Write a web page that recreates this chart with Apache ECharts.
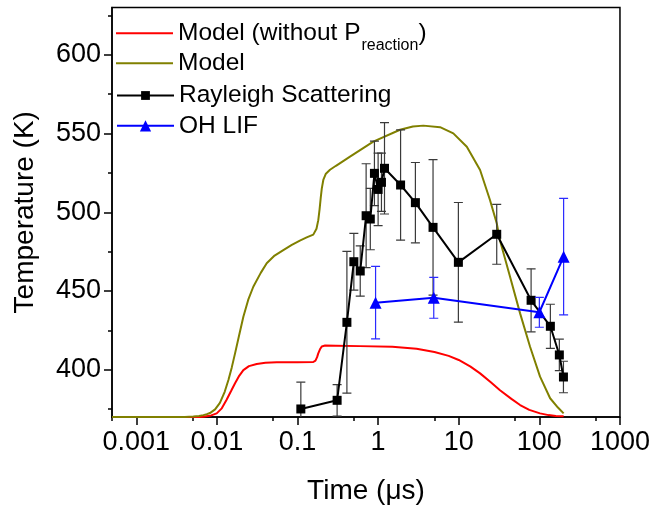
<!DOCTYPE html>
<html>
<head>
<meta charset="utf-8">
<script src="https://cdn.jsdelivr.net/npm/echarts@6/dist/echarts.min.js"></script>
<style>html,body{margin:0;padding:0;background:#fff}#c{width:653px;height:511px}</style>
</head>
<body>
<div id="c"></div>
<script>
// ---- Data ----
const xTickLabels = [0.001, 0.01, 0.1, 1, 10, 100, 1000];
const xMinorTicks = [0.0005, 0.005, 0.05, 0.5, 5, 50, 500];
const yTickLabels = [400, 450, 500, 550, 600];
const yMinorTicks = [375, 425, 475, 525, 575, 625];

// Model (without P_reaction) - red
const modelNoPTime = [0.0005, 0.006, 0.0068, 0.0085, 0.00995, 0.0115, 0.0132, 0.015, 0.0168, 0.019, 0.0213, 0.025, 0.0312, 0.04, 0.0552, 0.1, 0.157, 0.167, 0.175, 0.181, 0.19, 0.2, 0.22, 0.3, 0.596, 1.5, 3, 5, 7.5, 10, 14, 18.4, 25, 32.5, 45, 57.7, 75, 102, 130, 160, 200];
const modelNoPTemp = [370, 370, 370.2, 371, 372.3, 375.5, 381, 386.5, 391.4, 396.3, 399.8, 402.3, 403.7, 404.4, 404.7, 404.8, 404.9, 405.8, 408, 410.4, 413, 414.8, 415.4, 415.3, 415, 414.6, 413.3, 411.3, 408.8, 406.2, 402, 397.7, 392, 387, 381.5, 377.6, 374.5, 372.3, 371.2, 370.7, 370.4];

// Model - olive
const modelTime = [0.0005, 0.004, 0.0051, 0.006, 0.0068, 0.0075, 0.0082, 0.0095, 0.0109, 0.0125, 0.0139, 0.0153, 0.0168, 0.019, 0.0213, 0.0245, 0.0283, 0.035, 0.0415, 0.052, 0.0667, 0.085, 0.107, 0.13, 0.157, 0.165, 0.172, 0.181, 0.188, 0.194, 0.2, 0.209, 0.225, 0.253, 0.3, 0.448, 0.871, 1.87, 2.7, 3.64, 5.87, 8.57, 12.6, 18.4, 24.4, 29.6, 32.5, 43.3, 57.7, 76.7, 102, 136, 170, 200];
const modelTemp = [370, 370, 370.3, 370.7, 371.2, 371.8, 372.5, 374.8, 379, 386, 393.5, 401.5, 410.4, 422.5, 433.7, 444.5, 452.7, 461.5, 467.6, 472.5, 476, 479.3, 482, 484, 485.8, 487, 489.5, 495, 502, 509, 515, 520.5, 524.5, 527, 529.5, 535.3, 544.8, 552.4, 554.4, 555, 554, 550.1, 541.6, 526.8, 507.8, 493, 482, 459.1, 435.8, 414.6, 395.6, 381.9, 376, 372.3];

// Rayleigh Scattering - black squares
const rsTime = [0.11, 0.31, 0.41, 0.5, 0.6, 0.71, 0.8, 0.9, 1.0, 1.1, 1.2, 1.9, 2.9, 4.8, 9.9, 29.6, 79, 137, 177, 199];
const rsTemp = [375.1, 380.6, 430.1, 468.6, 462.7, 497.8, 495.7, 524.7, 514.5, 519, 527.9, 517.3, 506.1, 490.4, 468.2, 486, 444.1, 427.6, 409.4, 395.4];
const rsErr  = [17, 10, 45, 18, 16, 33, 19.5, 20.5, 23, 18.5, 29, 35, 25.5, 43, 38, 19, 20, 14, 10, 10];

// OH LIF - blue triangles
const ohTime = [0.93, 4.9, 100, 200];
const ohTemp = [442.6, 445.7, 436.5, 471.8];
const ohErr  = [23, 13, 9.5, 37];

// ---- Chart ----
const FONT = 'Liberation Sans, Arial, sans-serif';
const zip = (a, b) => a.map((v, i) => [v, b[i]]);
const errData = (t, v, e) => t.map((x, i) => [x, v[i] - e[i], v[i] + e[i]]);

function errRender(color, capHalf) {
  return function (params, api) {
    const x = api.value(0);
    const lo = api.coord([x, api.value(1)]);
    const hi = api.coord([x, api.value(2)]);
    const st = { stroke: color, lineWidth: 1.2 };
    return {
      type: 'group',
      children: [
        { type: 'line', shape: { x1: lo[0], y1: lo[1], x2: hi[0], y2: hi[1] }, style: st },
        { type: 'line', shape: { x1: hi[0] - capHalf, y1: hi[1], x2: hi[0] + capHalf, y2: hi[1] }, style: st },
        { type: 'line', shape: { x1: lo[0] - capHalf, y1: lo[1], x2: lo[0] + capHalf, y2: lo[1] }, style: st }
      ]
    };
  };
}

const chart = echarts.init(document.getElementById('c'), null, { renderer: 'canvas' });

const nameRed = 'Model (without Preaction)';
const legendBase = {
  orient: 'vertical', left: 116, padding: 0, itemWidth: 57,
  textStyle: { fontSize: 24.5, lineHeight: 24, color: '#000', fontFamily: FONT }
};

chart.setOption({
  animation: false,
  textStyle: { fontFamily: FONT },
  grid: { left: 112, right: 33, top: 7.5, bottom: 94, show: true, borderColor: '#000', borderWidth: 1.5, backgroundColor: 'transparent' },
  legend: [
    Object.assign({}, legendBase, {
      top: 12.7, itemHeight: 2, data: [{ name: nameRed, icon: 'rect' }],
      formatter: () => 'Model (without P{sub|reaction})',
      textStyle: Object.assign({}, legendBase.textStyle, {
        rich: { sub: { fontSize: 16, lineHeight: 24, padding: [25, 0, 0, 1], fontFamily: FONT, color: '#000' } }
      })
    }),
    Object.assign({}, legendBase, { top: 50.7, itemHeight: 2, data: [{ name: 'Model', icon: 'rect' }] }),
    Object.assign({}, legendBase, { top: 83, itemHeight: 11, data: ['Rayleigh Scattering'] }),
    Object.assign({}, legendBase, { top: 113.3, itemHeight: 14, data: ['OH LIF'] })
  ],
  xAxis: [
    {
      type: 'log', logBase: 10, min: 0.0005, max: 1000,
      name: 'Time (\u03bcs)', nameLocation: 'middle', nameGap: 60,
      nameTextStyle: { fontSize: 28, color: '#000', fontFamily: FONT },
      axisLine: { show: true, lineStyle: { color: '#000', width: 1.5 } },
      axisTick: { show: true, inside: false, length: 8, customValues: xTickLabels, lineStyle: { color: '#000', width: 1.5 } },
      axisLabel: { customValues: xTickLabels, fontSize: 27, color: '#000', margin: 12, fontFamily: FONT,
        formatter: v => { const i = xTickLabels.findIndex(t => Math.abs(Math.log10(t) - Math.log10(v)) < 1e-6); return i >= 0 ? String(xTickLabels[i]) : ''; } },
      splitLine: { show: false }, minorTick: { show: false }
    },
    {
      type: 'log', logBase: 10, min: 0.0005, max: 1000, position: 'bottom',
      axisLine: { show: false },
      axisTick: { show: true, inside: false, length: 4, customValues: xMinorTicks, lineStyle: { color: '#000', width: 1.5 } },
      axisLabel: { show: false }, splitLine: { show: false }
    }
  ],
  yAxis: [
    {
      type: 'value', min: 370, max: 630,
      name: 'Temperature (K)', nameLocation: 'middle', nameGap: 73,
      nameTextStyle: { fontSize: 28, color: '#000', fontFamily: FONT },
      axisLine: { show: true, lineStyle: { color: '#000', width: 1.5 } },
      axisTick: { show: true, inside: false, length: 8, customValues: yTickLabels, lineStyle: { color: '#000', width: 1.5 } },
      axisLabel: { customValues: yTickLabels, fontSize: 27, color: '#000', margin: 11, fontFamily: FONT },
      splitLine: { show: false }
    },
    {
      type: 'value', min: 370, max: 630, position: 'left', offset: 0,
      axisLine: { show: false },
      axisTick: { show: true, inside: false, length: 4, customValues: yMinorTicks, lineStyle: { color: '#000', width: 1.5 } },
      axisLabel: { show: false }, splitLine: { show: false }
    }
  ],
  series: [
    {
      name: nameRed, type: 'line', data: zip(modelNoPTime, modelNoPTemp),
      symbol: 'none', smooth: false,
      lineStyle: { color: '#ff0000', width: 2 }, itemStyle: { color: '#ff0000' }, z: 2
    },
    {
      name: 'Model', type: 'line', data: zip(modelTime, modelTemp),
      symbol: 'none', smooth: false,
      lineStyle: { color: '#808000', width: 2 }, itemStyle: { color: '#808000' }, z: 3
    },
    {
      type: 'custom', name: 'rsErr', data: errData(rsTime, rsTemp, rsErr),
      encode: { x: 0, y: [1, 2] }, renderItem: errRender('#3a3a3a', 4.5), clip: true, z: 4, silent: true
    },
    {
      name: 'Rayleigh Scattering', type: 'line', data: zip(rsTime, rsTemp),
      symbol: 'rect', symbolSize: 9, showAllSymbol: true,
      lineStyle: { color: '#000', width: 2 }, itemStyle: { color: '#000' }, z: 5
    },
    {
      type: 'custom', name: 'ohErr', data: errData(ohTime, ohTemp, ohErr),
      encode: { x: 0, y: [1, 2] }, renderItem: errRender('#2a2aff', 4.5), clip: true, z: 6, silent: true
    },
    {
      name: 'OH LIF', type: 'line', data: zip(ohTime, ohTemp),
      symbol: 'triangle', symbolSize: 12, showAllSymbol: true,
      lineStyle: { color: '#0000ff', width: 2 }, itemStyle: { color: '#0000ff' }, z: 7
    }
  ]
});
</script>
</body>
</html>
